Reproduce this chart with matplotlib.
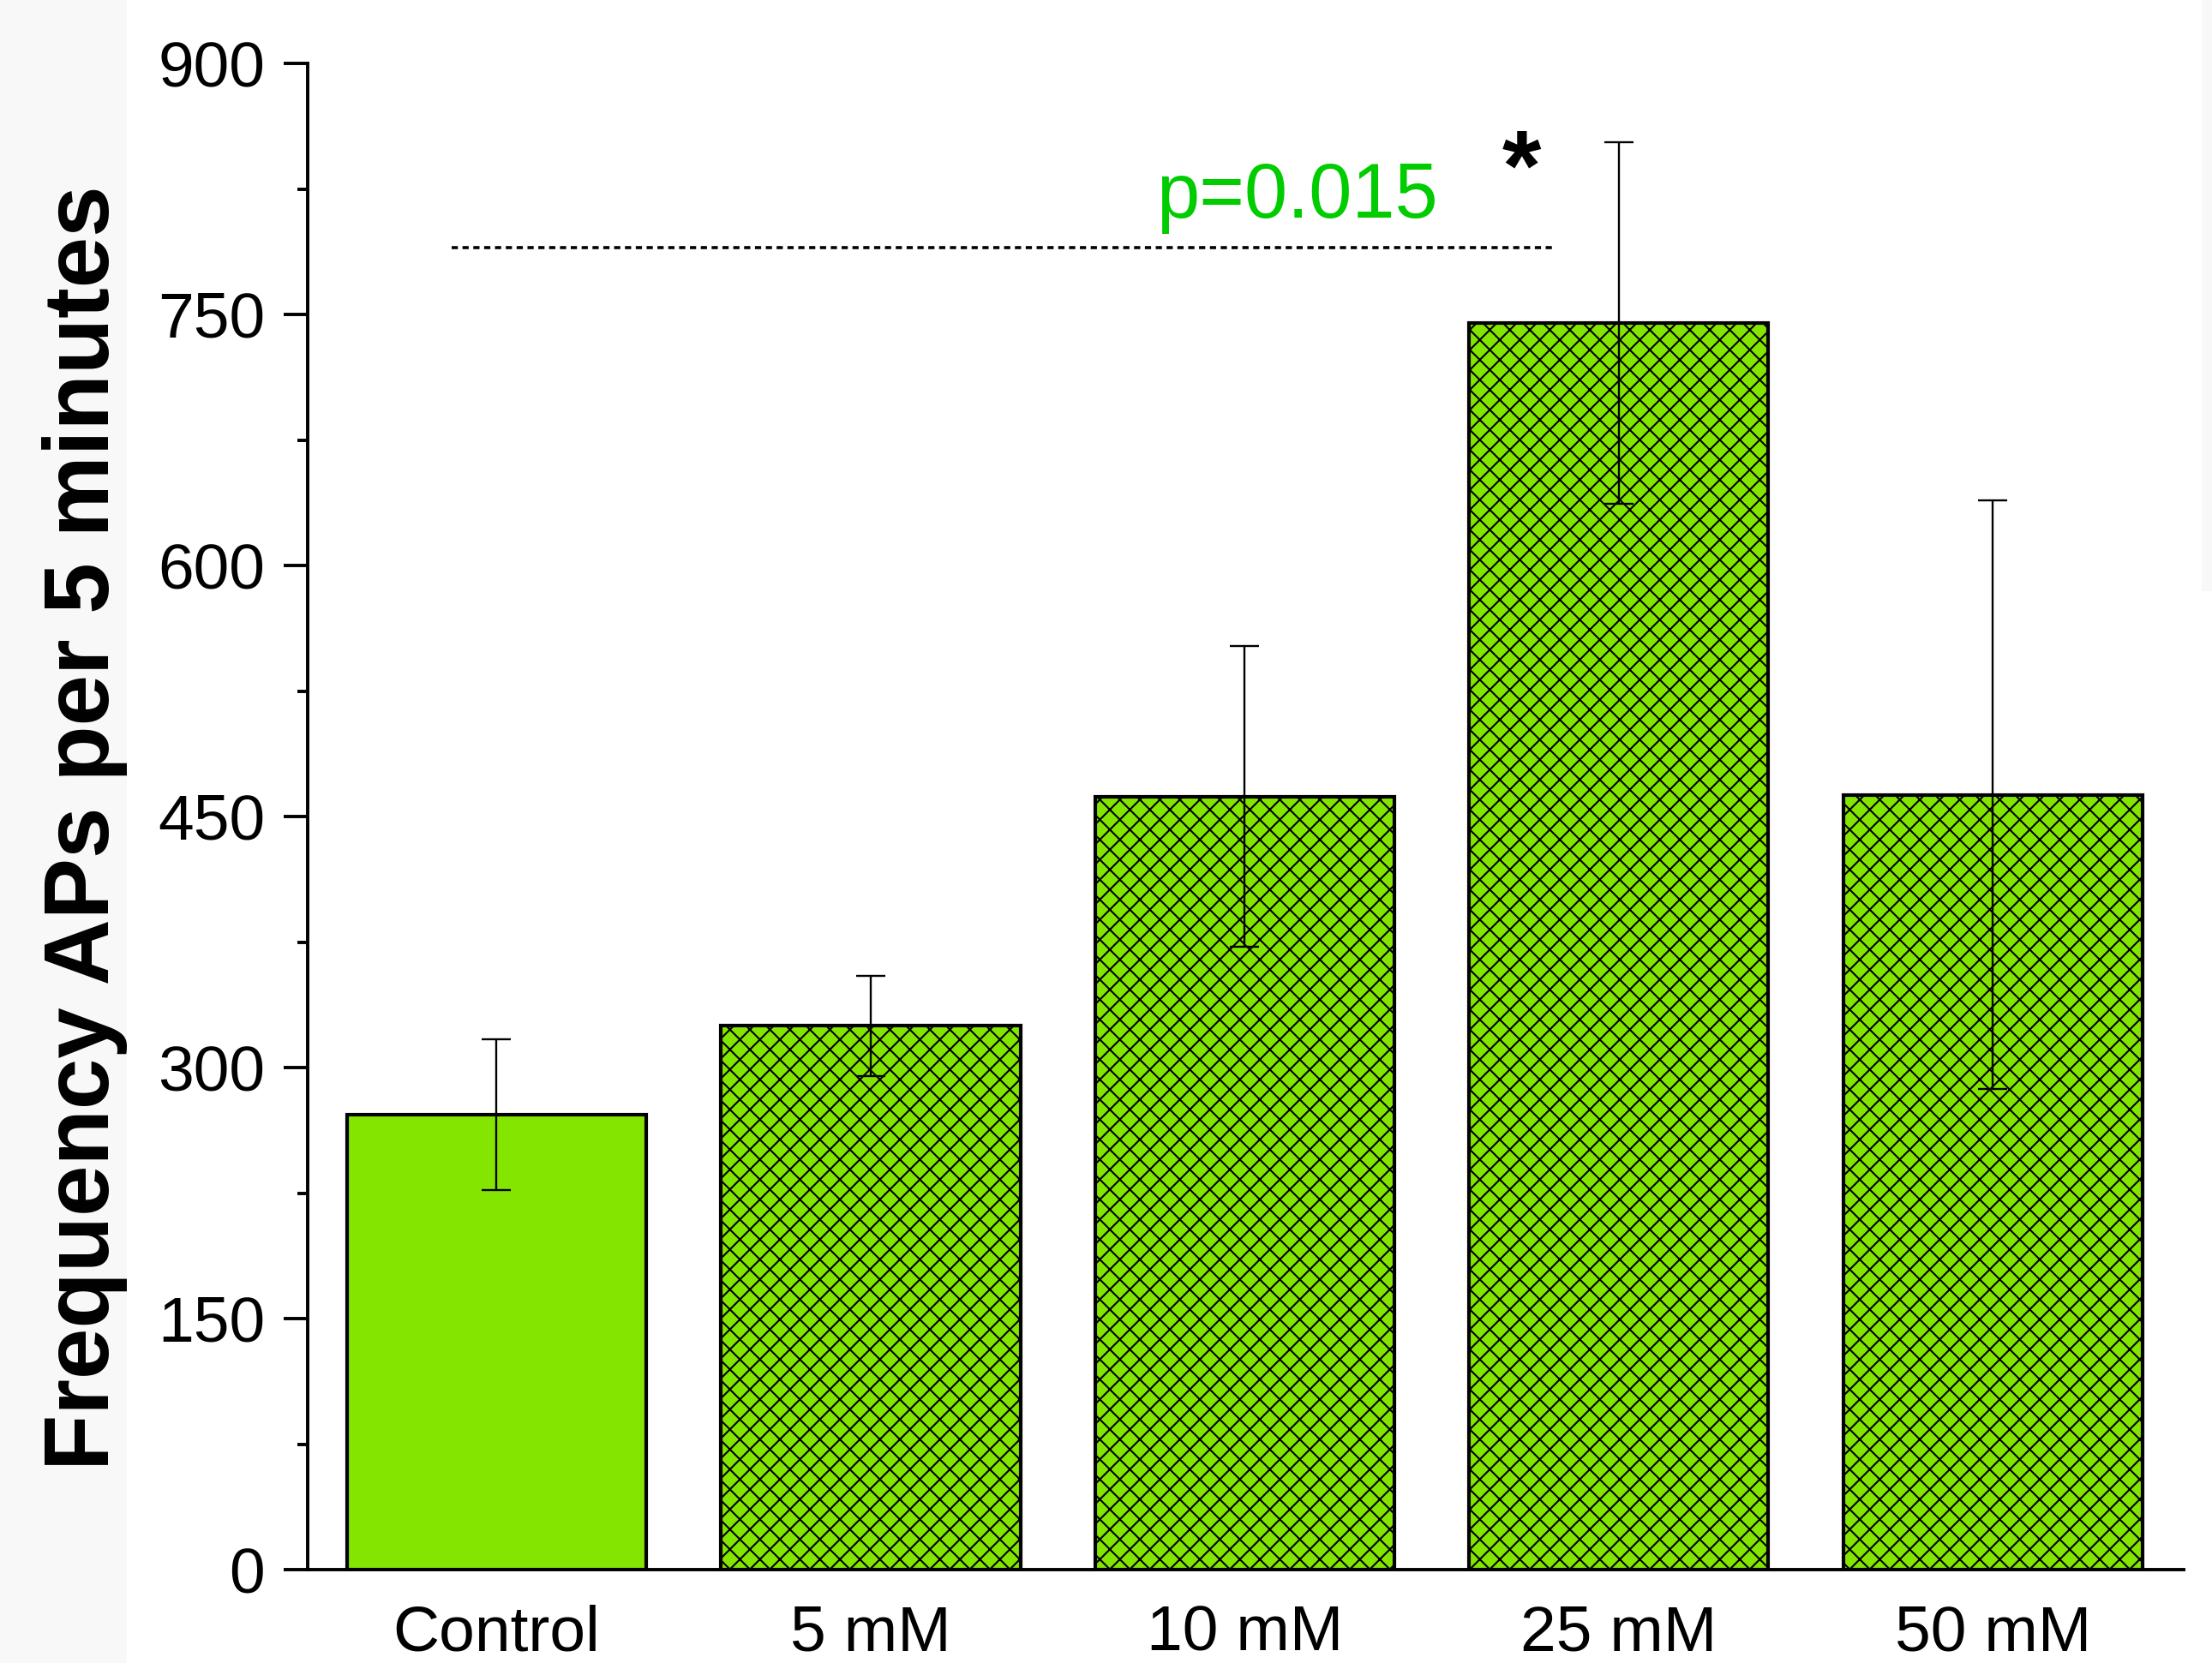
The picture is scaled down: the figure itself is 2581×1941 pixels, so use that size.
import matplotlib
matplotlib.use("Agg")
import matplotlib.pyplot as plt
from matplotlib.patches import Rectangle

categories = ["Control", "5 mM", "10 mM", "25 mM", "50 mM"]
means = [272, 325, 462, 745, 463]
errors = [45, 30, 90, 108, 176]
hatches = ["", "xx", "xx", "xx", "xx"]
yticks = [0, 150, 300, 450, 600, 750, 900]
p_text = "p=0.015"
sig_level = 790

W, H = 2581, 1941
dpi = 140
f = 100.0 / dpi  # sizes below are given as if at 100 dpi

plt.rcParams['font.family'] = ['Liberation Sans', 'DejaVu Sans']
plt.rcParams['hatch.linewidth'] = 1.5 * f
plt.rcParams['hatch.color'] = 'black'

fig = plt.figure(figsize=(W / dpi, H / dpi), dpi=dpi)
fig.patch.set_facecolor('white')

# light gray strips at edges
fig.patches.append(Rectangle((0, 0), 148 / W, 1, transform=fig.transFigure,
                             facecolor='#f8f8f8', edgecolor='none', zorder=0))
fig.patches.append(Rectangle((2569 / W, 1 - 690 / H), 12 / W, 690 / H, transform=fig.transFigure,
                             facecolor='#f8f8f8', edgecolor='none', zorder=0))

ax = fig.add_axes([359 / W, 1 - 1832 / H, (2548 - 359) / W, (1832 - 74) / H])
ax.patch.set_alpha(0)

x = list(range(len(categories)))
for xi, m, h in zip(x, means, hatches):
    ax.bar(xi, m, width=0.8, color='#84e600', edgecolor='black', linewidth=3.0 * f,
           hatch=h, zorder=2)
ax.errorbar(x, means, yerr=errors, fmt='none', ecolor='black', elinewidth=1.7 * f,
            capsize=12 * f, capthick=1.7 * f, zorder=3)

ax.set_xlim(-0.505, 4.51)
ax.set_ylim(0, 900)
ax.set_yticks(yticks)
ax.set_yticks(range(75, 900, 150), minor=True)
ax.set_xticks(x)
ax.set_xticklabels(categories)

for s in ['top', 'right']:
    ax.spines[s].set_visible(False)
for s in ['left', 'bottom']:
    ax.spines[s].set_linewidth(2.8 * f)

ax.tick_params(axis='y', which='major', direction='out', length=20 * f, width=2.8 * f,
               labelsize=54 * f, pad=16 * f)
ax.tick_params(axis='y', which='minor', direction='out', length=9 * f, width=2.8 * f)
ax.tick_params(axis='x', which='both', length=0, labelsize=54 * f, pad=29 * f)

fig.text(99 / W, 1 - 966 / H, "Frequency APs per 5 minutes", rotation=90,
         fontsize=77 * f, fontweight='bold', ha='center', va='center')

# significance line and annotation
ax.plot([-0.12, 2.83], [sig_level, sig_level], linestyle=(0, (2, 1.5)), color='black',
        linewidth=2.6 * f, zorder=3)
ax.text(2.14, 798, p_text, color='#00cc00', fontsize=65 * f, ha='center', va='bottom')
ax.text(2.74, 806, "*", color='black', fontsize=84 * f, fontweight='bold', ha='center', va='bottom')

fig.savefig("out.png", dpi=dpi)
